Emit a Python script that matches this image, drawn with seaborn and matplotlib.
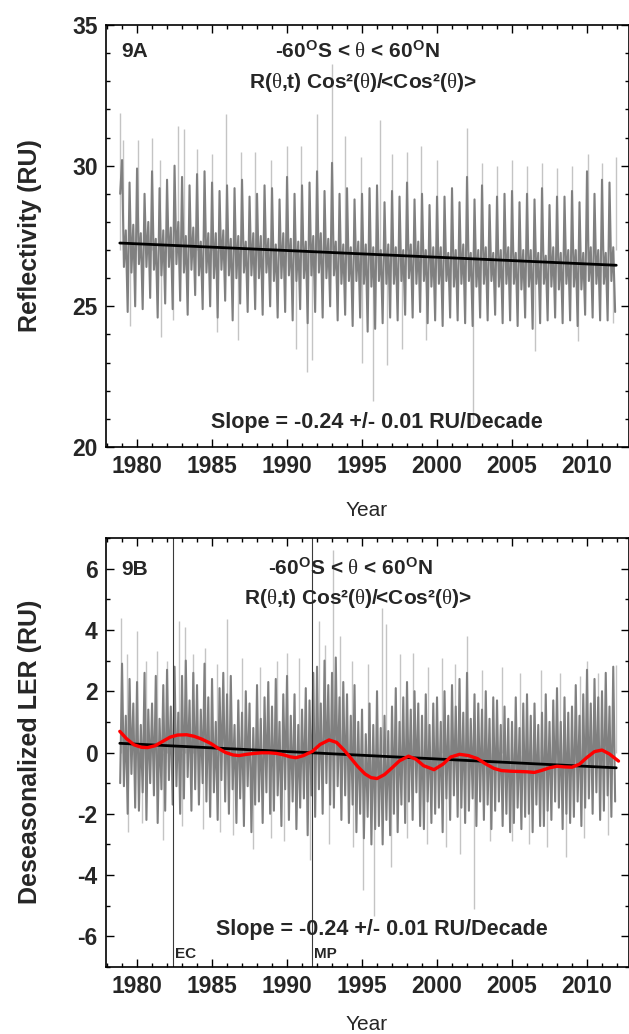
import numpy as np
import pandas as pd
import matplotlib
matplotlib.use("Agg")
import matplotlib.pyplot as plt
import seaborn as sns
from matplotlib.ticker import MultipleLocator

sns.set_theme(style="ticks")
plt.rcParams["font.family"] = ["Liberation Sans", "DejaVu Sans"]
plt.rcParams["mathtext.fontset"] = "custom"
plt.rcParams["mathtext.rm"] = "Liberation Sans:bold"
plt.rcParams["mathtext.bf"] = "Liberation Sans:bold"
plt.rcParams["mathtext.it"] = "Liberation Serif"
plt.rcParams["mathtext.default"] = "rm"
plt.rcParams["axes.unicode_minus"] = False

# ---------------- data ----------------
SERIES_START = 1978.875      # first sample (year)
SERIES_STEP = 0.125          # sample spacing (year)

# Panel A: reflectivity, alternating upper / lower values of the daily band
refl_a = [
    29.0,
    30.2, 26.4, 27.7, 24.8, 29.4, 26.2, 27.9, 25.0,   # 1979
    29.9, 26.5, 27.6, 24.9, 29.0, 26.4, 28.0, 25.3,   # 1980
    29.8, 26.3, 27.4, 24.6, 29.2, 26.1, 27.7, 25.1,   # 1981
    29.5, 26.4, 27.8, 24.9, 30.0, 26.5, 28.0, 25.2,   # 1982
    29.6, 26.2, 27.5, 24.7, 29.3, 26.3, 27.8, 25.4,   # 1983
    29.7, 26.1, 27.3, 24.9, 29.8, 26.2, 27.6, 25.0,   # 1984
    29.4, 26.0, 27.6, 24.6, 29.1, 26.3, 27.7, 25.2,   # 1985
    29.3, 26.1, 27.4, 24.5, 29.2, 26.0, 27.5, 25.1,   # 1986
    29.5, 26.2, 27.3, 24.8, 28.9, 26.1, 27.6, 24.9,   # 1987
    29.0, 26.0, 27.5, 24.7, 29.3, 26.2, 27.4, 25.0,   # 1988
    29.2, 25.9, 27.2, 24.6, 28.8, 26.0, 27.6, 24.8,   # 1989
    29.6, 26.1, 27.4, 24.5, 29.0, 25.9, 27.3, 24.9,   # 1990
    29.3, 26.0, 27.3, 24.4, 29.4, 26.1, 27.5, 24.8,   # 1991
    29.8, 26.2, 27.6, 24.6, 29.1, 26.0, 27.4, 25.0,   # 1992
    30.1, 26.1, 27.3, 24.5, 29.0, 25.8, 27.2, 24.7,   # 1993
    29.2, 25.9, 27.1, 24.3, 28.8, 25.9, 27.3, 24.6,   # 1994
    29.0, 25.8, 27.2, 24.1, 29.2, 25.7, 27.1, 24.2,   # 1995
    29.3, 25.9, 27.0, 24.4, 28.7, 25.8, 27.2, 24.6,   # 1996
    29.1, 25.8, 27.1, 24.5, 28.9, 25.9, 27.0, 24.7,   # 1997
    29.4, 26.0, 27.2, 24.6, 28.8, 25.8, 27.3, 24.8,   # 1998
    29.0, 25.9, 27.0, 24.4, 28.6, 25.7, 27.1, 24.5,   # 1999
    28.9, 25.8, 27.1, 24.3, 28.9, 25.9, 26.9, 24.6,   # 2000
    29.2, 25.7, 27.0, 24.5, 28.7, 25.8, 27.2, 24.4,   # 2001
    29.6, 25.9, 26.9, 24.3, 28.8, 25.7, 27.0, 24.6,   # 2002
    29.3, 25.8, 27.1, 24.5, 28.6, 25.9, 26.9, 24.7,   # 2003
    28.9, 25.7, 27.0, 24.4, 29.0, 25.8, 27.1, 24.5,   # 2004
    29.1, 25.8, 26.9, 24.3, 28.7, 25.6, 27.0, 24.6,   # 2005
    29.0, 25.7, 27.0, 24.2, 28.8, 25.8, 26.9, 24.4,   # 2006
    29.2, 25.8, 26.8, 24.5, 28.6, 25.7, 27.1, 24.6,   # 2007
    28.9, 25.6, 26.9, 24.4, 28.9, 25.8, 27.0, 24.5,   # 2008
    29.1, 25.7, 27.0, 24.3, 28.7, 25.6, 26.9, 24.7,   # 2009
    29.8, 25.9, 27.1, 24.6, 29.0, 25.8, 27.0, 24.5,   # 2010
    29.5, 25.8, 26.9, 24.5, 29.4, 25.9, 27.1, 24.8,   # 2011
]

# Panel B: deseasonalized LER, alternating upper / lower values
ler_b = [
    -1.0,
    2.9, -1.1, 1.2, -2.0, 2.4, -0.7, 1.6, -1.8,   # 1979
    2.3, -1.9, 0.9, -1.3, 2.6, -2.2, 1.4, -1.0,   # 1980
    1.6, -1.4, 2.5, -2.3, 1.1, -1.2, 2.2, -1.9,   # 1981
    2.7, -0.9, 1.5, -1.7, 2.8, -1.1, 1.3, -2.0,   # 1982
    2.5, -1.5, 3.0, -0.8, 1.7, -1.9, 2.6, -1.2,   # 1983
    2.2, -1.7, 1.4, -1.0, 2.9, -1.6, 1.8, -2.1,   # 1984
    2.4, -1.3, 1.0, -2.2, 2.1, -0.9, 2.6, -1.6,   # 1985
    1.9, -2.0, 2.5, -1.2, 0.9, -2.3, 1.7, -1.5,   # 1986
    1.3, -2.4, 2.0, -1.1, 1.6, -2.6, 0.8, -1.7,   # 1987
    2.2, -1.6, 1.1, -2.3, 1.8, -1.3, 2.3, -2.0,   # 1988
    1.5, -1.9, 2.4, -1.4, 1.0, -2.4, 1.9, -1.2,   # 1989
    2.5, -2.2, 1.2, -1.6, 1.9, -2.5, 0.9, -1.8,   # 1990
    1.4, -1.5, 2.1, -2.7, 1.7, -1.4, 2.6, -2.1,   # 1991
    2.8, -1.2, 1.6, -2.0, 3.0, -1.0, 2.2, -1.7,   # 1992
    2.6, -1.8, 3.1, -1.1, 1.8, -2.2, 2.3, -1.4,   # 1993
    1.9, -2.3, 1.2, -1.7, 2.2, -2.6, 1.0, -2.0,   # 1994
    1.4, -2.8, 0.6, -2.1, 1.6, -3.0, 0.9, -2.5,   # 1995
    2.0, -2.4, 0.8, -3.0, 1.2, -2.2, 0.7, -2.7,   # 1996
    1.5, -2.0, 2.1, -2.6, 1.0, -1.7, 1.8, -2.3,   # 1997
    2.3, -1.6, 1.4, -2.2, 2.0, -1.3, 1.6, -2.4,   # 1998
    1.2, -2.5, 1.9, -1.6, 0.9, -2.3, 1.6, -2.0,   # 1999
    1.8, -1.8, 1.0, -2.6, 2.0, -1.5, 1.2, -2.2,   # 2000
    2.2, -1.4, 1.5, -2.1, 2.4, -1.8, 1.3, -2.3,   # 2001
    2.6, -1.9, 1.1, -1.5, 1.9, -2.4, 1.6, -1.6,   # 2002
    1.4, -2.2, 2.0, -1.7, 1.1, -2.5, 1.8, -1.9,   # 2003
    1.7, -1.6, 0.9, -2.4, 1.5, -2.0, 1.1, -2.6,   # 2004
    1.0, -2.3, 1.8, -1.8, 0.8, -2.5, 1.6, -2.1,   # 2005
    1.9, -2.0, 1.2, -2.6, 1.6, -1.7, 0.9, -2.4,   # 2006
    1.3, -2.4, 1.9, -1.9, 1.0, -2.2, 1.7, -1.6,   # 2007
    2.1, -1.8, 1.0, -2.5, 1.8, -2.0, 1.3, -2.3,   # 2008
    1.5, -2.1, 2.2, -1.6, 1.2, -2.4, 1.9, -1.8,   # 2009
    2.7, -1.5, 1.6, -2.0, 2.4, -1.3, 1.8, -2.2,   # 2010
    2.0, -1.9, 2.6, -1.4, 1.5, -2.1, 2.8, -1.6,   # 2011
]

# isolated daily extremes (light grey spikes)
spike_a_up_years = [1978.85, 1979.05, 1980.08, 1981.03, 1981.5, 1982.76, 1983.1, 1984.0,
                    1985.0, 1985.94, 1986.9, 1987.85, 1988.9, 1990.0, 1990.93, 1991.97,
                    1992.99, 1993.84, 1994.9, 1996.18, 1997.0, 1997.99, 1998.93, 2000.0,
                    2001.97, 2003.0, 2004.0, 2005.0, 2006.0, 2007.0, 2008.0, 2009.0,
                    2010.07, 2011.0, 2011.93]
spike_a_up_vals = [31.87, 30.9, 30.93, 31.0, 30.2, 31.42, 31.3, 30.6,
                   30.4, 31.83, 30.5, 30.5, 30.2, 30.7, 30.7, 31.85,
                   33.6, 31.06, 30.3, 31.64, 30.4, 30.5, 30.7, 30.2,
                   31.35, 30.1, 30.0, 30.2, 30.0, 30.1, 29.9, 30.0,
                   30.4, 30.1, 30.3]
spike_a_dn_years = [1979.5, 1981.6, 1982.4, 1985.35, 1986.7, 1990.6, 1991.3, 1991.65,
                    1995.0, 1995.7, 1996.65, 1997.65, 1999.25, 2002.4, 2006.5, 2009.4, 2011.7]
spike_a_dn_vals = [24.3, 23.9, 24.5, 24.1, 23.8, 23.5, 22.65, 23.1,
                   23.0, 21.65, 22.9, 23.5, 23.8, 20.8, 23.4, 23.75, 24.4]

spike_b_up_years = [1978.95, 1979.3, 1980.0, 1980.6, 1981.3, 1982.0, 1982.8, 1983.2, 1983.7,
                    1984.5, 1985.3, 1986.0, 1987.0, 1988.2, 1989.3, 1990.0, 1990.8, 1992.1,
                    1992.5, 1993.05, 1993.5, 1994.3, 1995.4, 1996.3, 1996.6, 1997.5, 1998.4,
                    1999.4, 2000.3, 2001.2, 2002.0, 2003.0, 2004.3, 2005.5, 2006.9, 2008.2,
                    2009.5, 2010.0, 2010.7, 2011.9]
spike_b_up_vals = [4.4, 3.2, 3.97, 3.0, 3.3, 3.0, 4.3, 4.1, 3.2,
                   3.4, 2.9, 4.35, 3.1, 2.8, 3.0, 3.26, 3.1, 4.3,
                   3.5, 6.6, 3.8, 3.0, 2.9, 4.7, 4.2, 3.2, 3.26,
                   2.8, 3.1, 2.9, 3.8, 2.7, 2.8, 2.6, 2.7, 2.6,
                   2.5, 2.98, 2.6, 2.87]
spike_b_dn_years = [1979.4, 1980.3, 1981.7, 1983.0, 1984.4, 1985.5, 1986.4, 1987.7, 1988.9,
                    1989.8, 1991.5, 1992.8, 1994.4, 1995.05, 1995.8, 1996.9, 1998.0, 1999.3,
                    2000.6, 2001.5, 2002.45, 2003.5, 2005.0, 2006.1, 2007.3, 2008.6, 2009.8,
                    2011.4]
spike_b_dn_vals = [-2.6, -2.3, -2.86, -2.4, -2.5, -2.6, -2.7, -3.14, -2.8,
                   -2.9, -3.52, -3.0, -3.1, -4.5, -5.32, -3.74, -2.8, -3.0,
                   -3.1, -3.3, -5.1, -2.9, -2.9, -3.0, -3.1, -3.4, -2.8,
                   -2.7]

# linear trends (end points)
trend_years = [1978.85, 2011.95]
trend_a = [27.25, 26.46]
trend_b = [0.30, -0.50]

# smoothed curve (panel B)
smooth_years = [1978.85, 1979.3, 1979.8, 1980.3, 1980.7, 1981.2, 1981.7, 1982.2, 1982.7,
                1983.3, 1983.8, 1984.3, 1984.9, 1985.4, 1985.9, 1986.4, 1986.8, 1987.3,
                1987.8, 1988.3, 1988.8, 1989.3, 1989.8, 1990.2, 1990.6, 1991.1, 1991.7,
                1992.2, 1992.8, 1993.3, 1993.8, 1994.2, 1994.7, 1995.2, 1995.6, 1996.0,
                1996.5, 1997.0, 1997.5, 1998.1, 1998.6, 1999.1, 1999.8, 2000.4, 2000.9,
                2001.5, 2002.1, 2002.7, 2003.2, 2003.8, 2004.3, 2004.9, 2005.5, 2006.0,
                2006.5, 2007.0, 2007.5, 2008.0, 2008.5, 2009.0, 2009.5, 2010.0, 2010.5,
                2011.0, 2011.5, 2012.1]
smooth_vals = [0.69, 0.45, 0.25, 0.17, 0.16, 0.22, 0.36, 0.50, 0.57,
               0.58, 0.53, 0.44, 0.30, 0.14, 0.00, -0.08, -0.10, -0.06,
               -0.03, -0.01, -0.01, -0.03, -0.08, -0.14, -0.17, -0.10, 0.04,
               0.26, 0.41, 0.33, 0.08, -0.15, -0.45, -0.70, -0.82, -0.85,
               -0.72, -0.50, -0.27, -0.12, -0.22, -0.43, -0.56, -0.38, -0.15,
               -0.06, -0.10, -0.20, -0.36, -0.52, -0.59, -0.61, -0.62, -0.63,
               -0.65, -0.58, -0.50, -0.45, -0.47, -0.48, -0.38, -0.16, 0.03,
               0.08, -0.05, -0.28]

# volcanic eruptions
volcano_years = [1982.37, 1991.65]
volcano_labels = ["EC", "MP"]

x_ticks = [1980, 1985, 1990, 1995, 2000, 2005, 2010]
slope_text = "Slope = -0.24 +/- 0.01 RU/Decade"
title1 = r"-60$^{O}$S < $\mathit{θ}$ < 60$^{O}$N"
title2 = r"R($\mathit{θ}$,t) Cos²($\mathit{θ}$)/<Cos²($\mathit{θ}$)>"

# ---------------- figure ----------------
W, H = 629, 1034
fig = plt.figure(figsize=(W / 100, H / 100), dpi=100)
fig.patch.set_facecolor("white")
axA = fig.add_axes([106 / W, 1 - 447 / H, (W - 106) / W, 422 / H])
axB = fig.add_axes([106 / W, 1 - 967 / H, (W - 106) / W, 429 / H])

DARK = "#808080"
LIGHT = "#c4c4c4"

t_a = SERIES_START + SERIES_STEP * np.arange(len(refl_a))
t_b = SERIES_START + SERIES_STEP * np.arange(len(ler_b))
df_a = pd.DataFrame({"year": t_a, "value": refl_a})
df_b = pd.DataFrame({"year": t_b, "value": ler_b})

# Panel A
axA.vlines(spike_a_up_years, 27.0, spike_a_up_vals, color=LIGHT, lw=1.0, zorder=1)
axA.vlines(spike_a_dn_years, 27.0, spike_a_dn_vals, color=LIGHT, lw=1.0, zorder=1)
sns.lineplot(data=df_a, x="year", y="value", ax=axA, color=DARK, lw=1.5,
             estimator=None, sort=False, zorder=2)
sns.lineplot(x=trend_years, y=trend_a, ax=axA, color="black", lw=2.0, zorder=3)

# Panel B
axB.vlines(spike_b_up_years, 0.0, spike_b_up_vals, color=LIGHT, lw=1.0, zorder=1)
axB.vlines(spike_b_dn_years, 0.0, spike_b_dn_vals, color=LIGHT, lw=1.0, zorder=1)
sns.lineplot(data=df_b, x="year", y="value", ax=axB, color=DARK, lw=1.5,
             estimator=None, sort=False, zorder=2)
for vy in volcano_years:
    axB.axvline(vy, color="#3a3a3a", lw=0.8, zorder=2.5)
sns.lineplot(x=trend_years, y=trend_b, ax=axB, color="black", lw=2.0, zorder=3)
sns.lineplot(x=smooth_years, y=smooth_vals, ax=axB, color="#ff0000", lw=2.4, zorder=4)

for vy, lab in zip(volcano_years, volcano_labels):
    axB.text(vy + 0.15, -6.72, lab, fontsize=11, fontweight="bold", ha="left",
             va="baseline", zorder=5)

for ax, ylim, major in ((axA, (20, 35), 5), (axB, (-7, 7), 2)):
    ax.set_xlim(1977.93, 2012.8)
    ax.set_ylim(*ylim)
    ax.set_xticks(x_ticks)
    ax.xaxis.set_minor_locator(MultipleLocator(1))
    ax.yaxis.set_major_locator(MultipleLocator(major))
    ax.yaxis.set_minor_locator(MultipleLocator(1))
    ax.tick_params(which="both", direction="in", top=True, right=True,
                   color="black", width=1.0)
    ax.tick_params(which="major", length=6, labelsize=16.5, pad=6)
    ax.tick_params(which="minor", length=3)
    for lab in ax.get_xticklabels() + ax.get_yticklabels():
        lab.set_fontweight("bold")
    for sp in ax.spines.values():
        sp.set_linewidth(1.2)
        sp.set_color("black")
        sp.set_visible(True)
    ax.set_xlabel("")
    ax.set_ylabel("")
    ax.set_facecolor("white")
    ax.grid(False)

# Texts panel A
axA.text(0.03, 0.923, "9A", transform=axA.transAxes, fontsize=15, fontweight="bold",
         ha="left", va="baseline")
axA.text(0.48, 0.923, title1, transform=axA.transAxes, fontsize=15, fontweight="bold",
         ha="center", va="baseline")
axA.text(0.49, 0.85, title2, transform=axA.transAxes, fontsize=15, fontweight="bold",
         ha="center", va="baseline")
axA.text(0.517, 0.044, slope_text, transform=axA.transAxes, fontsize=15.5,
         fontweight="bold", ha="center", va="baseline")

# Texts panel B
axB.text(0.03, 0.914, "9B", transform=axB.transAxes, fontsize=15, fontweight="bold",
         ha="left", va="baseline")
axB.text(0.467, 0.914, title1, transform=axB.transAxes, fontsize=15, fontweight="bold",
         ha="center", va="baseline")
axB.text(0.482, 0.845, title2, transform=axB.transAxes, fontsize=15, fontweight="bold",
         ha="center", va="baseline")
axB.text(0.527, 0.075, slope_text, transform=axB.transAxes, fontsize=15.5,
         fontweight="bold", ha="center", va="baseline")

# axis titles
fig.text(30 / W, 1 - 236 / H, "Reflectivity (RU)", rotation=90, fontsize=18,
         fontweight="bold", ha="center", va="center")
fig.text(30 / W, 1 - 752 / H, "Deseasonalized LER (RU)", rotation=90, fontsize=18,
         fontweight="bold", ha="center", va="center")
fig.text(367 / W, 1 - 510 / H, "Year", fontsize=15, ha="center", va="center")
fig.text(367 / W, 1 - 1025 / H, "Year", fontsize=15, ha="center", va="center")

fig.savefig("out.png", dpi=100, facecolor="white")
